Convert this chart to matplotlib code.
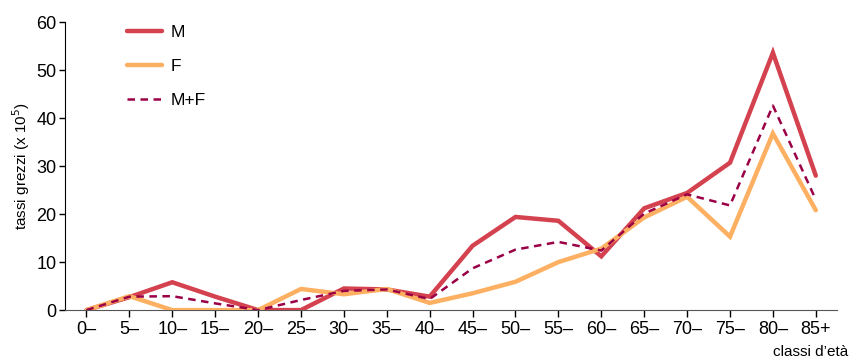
import numpy as np
import matplotlib
matplotlib.use('Agg')
import matplotlib.pyplot as plt

plt.rcParams['font.family'] = ['Liberation Sans', 'DejaVu Sans']

classi = ['0\u2013', '5\u2013', '10\u2013', '15\u2013', '20\u2013', '25\u2013', '30\u2013', '35\u2013', '40\u2013',
          '45\u2013', '50\u2013', '55\u2013', '60\u2013', '65\u2013', '70\u2013', '75\u2013', '80\u2013', '85+']
maschi = [0, 2.7, 5.8, 2.8, 0, 0, 4.5, 4.3, 2.8, 13.4, 19.4, 18.6, 11.2, 21.2, 24.4, 30.7, 53.6, 28.0]
femmine = [0, 2.9, 0, 0, 0, 4.4, 3.3, 4.4, 1.5, 3.5, 5.9, 10.0, 12.8, 19.3, 23.6, 15.3, 36.8, 20.8]
totale = [0, 2.8, 2.9, 1.4, 0, 2.1, 4.0, 4.3, 2.3, 8.7, 12.6, 14.2, 12.4, 20.1, 24.1, 21.8, 42.6, 23.0]

col_m = '#d4424f'
col_f = '#fdb061'
col_mf = '#9b0046'

fig = plt.figure(figsize=(8.5, 3.61), dpi=100)
ax = fig.add_axes([0.0765, 0.141, 0.9085, 0.798])

x = np.arange(len(classi))
ax.plot(x, maschi, color=col_m, lw=3.2, label='M', solid_capstyle='round', solid_joinstyle='miter', zorder=3)
ax.plot(x, femmine, color=col_f, lw=3.2, label='F', solid_capstyle='round', solid_joinstyle='miter', zorder=4)
ax.plot(x, totale, color=col_mf, lw=1.8, ls=(0, (3, 2.2)), label='M+F', zorder=5)

ax.set_xlim(-0.5, len(classi) - 0.5)
ax.set_ylim(0, 60)
ax.set_xticks(x)
ax.set_xticklabels(classi, fontsize=13)
ax.set_yticks(np.arange(0, 61, 10))
ax.tick_params(axis='y', labelsize=13, length=4, width=1, pad=2)
ax.tick_params(axis='x', length=5, width=1, pad=3)
ax.spines['top'].set_visible(False)
ax.spines['right'].set_visible(False)
ax.spines['bottom'].set_color('#555555')

ax.set_ylabel('tassi grezzi (x 10$^5$)', fontsize=11, labelpad=3)
fig.text(0.998, 0.005, "classi d\u2019et\u00e0", ha='right', va='bottom', fontsize=11)

leg = ax.legend(loc='upper left', bbox_to_anchor=(0.06, 1.045), frameon=False, fontsize=12.5,
                handlelength=2.0, handletextpad=0.5, labelspacing=1.1)

fig.savefig('out.png', dpi=100)
